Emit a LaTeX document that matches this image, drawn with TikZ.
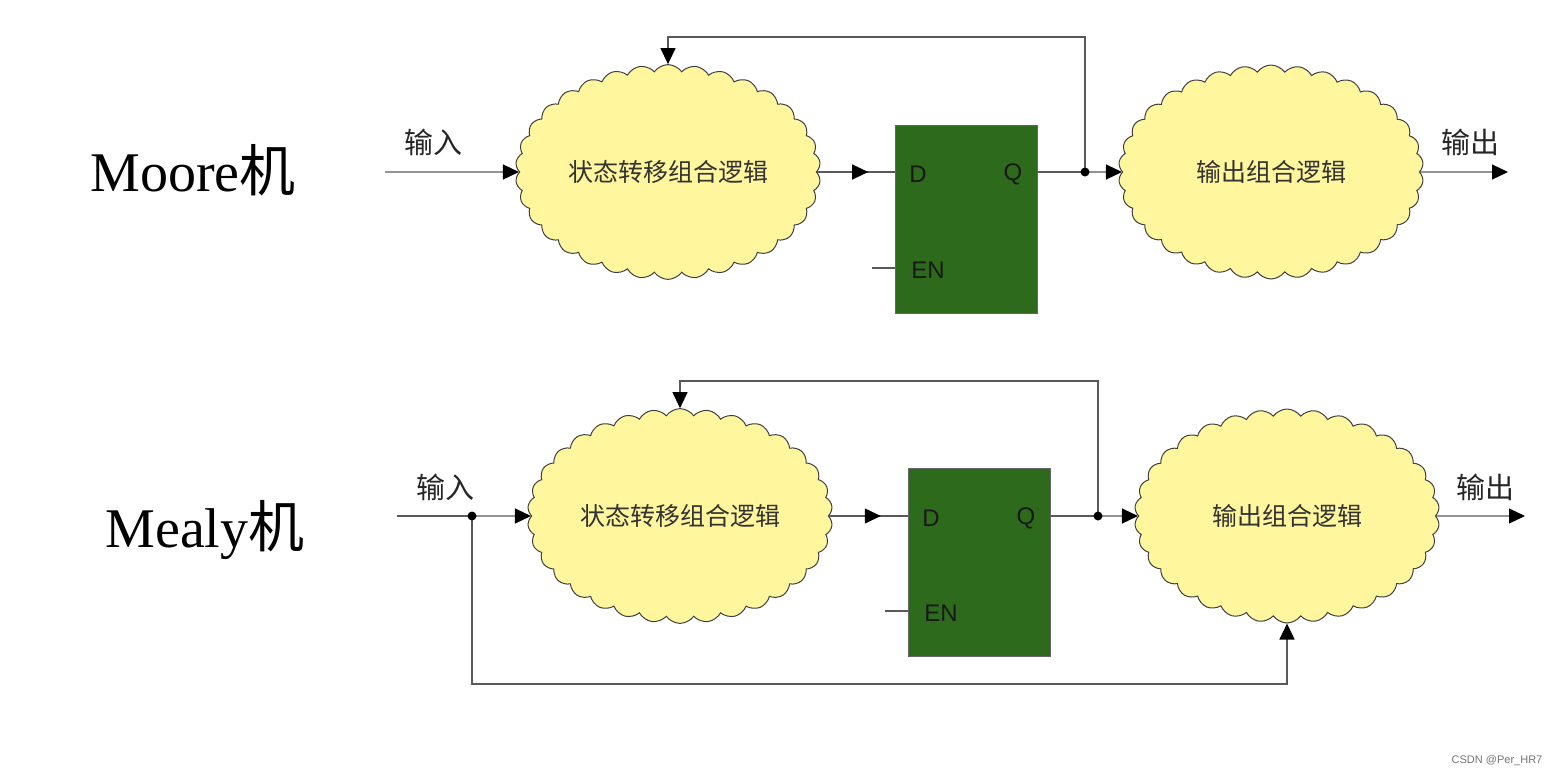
\documentclass[tikz,border=0pt]{standalone}
\usepackage{fontspec}
\setmainfont{Liberation Serif}
\newfontfamily\cjk{Noto Sans CJK SC}
\newfontfamily\arialfont{Liberation Sans}
\usepackage{tikz}
\usetikzlibrary{positioning}
\usetikzlibrary{arrows.meta}
\usetikzlibrary{shapes.symbols}
\usetikzlibrary{decorations.markings}
\usetikzlibrary{calc}
\definecolor{cloudyellow}{RGB}{255,246,158}
\definecolor{ffgreen}{RGB}{46,106,27}

\begin{document}
\begin{tikzpicture}[x=1pt,y=-1pt,>={Triangle[length=16pt,width=15pt,color=black]}]
\tikzset{logic/.style={cloud, cloud puffs=34, cloud puff arc=110, aspect=1.4, draw=black!75, line width=1pt, fill=cloudyellow, minimum width=305pt, minimum height=214pt, inner sep=0pt, font=\cjk\fontsize{25}{28}\selectfont, text=black!80}}
\tikzset{dff/.style={rectangle, draw=black!60, line width=1pt, fill=ffgreen, minimum width=142pt, minimum height=188pt}}
\tikzset{pin/.style={font=\arialfont\fontsize{24}{26}\selectfont, text=black!90}}
\tikzset{wire/.style={draw=black!65, line width=1.2pt}}
\tikzset{midarrow/.style={postaction={decorate}, decoration={markings, mark=at position #1 with {\arrow{>}}}}}
\tikzset{label/.style={font=\cjk\fontsize{29}{32}\selectfont, text=black!85}}
\tikzset{title/.style={font=\fontsize{56}{60}\selectfont}}
\tikzset{dot/.style={circle, fill=black, inner sep=0pt, minimum size=9pt}}
\useasboundingbox (0,0) rectangle (1554,777);

% Moore
\node[title] (moore) at (193,170) {Moore{\cjk 机}};
\node[logic] (st1) at (668,172) {状态转移组合逻辑};
\node[dff] (ff1) at (966,219) {};
\node[pin] (d1) at (918,174) {D};
\node[pin] (q1) at (1013,174) {Q};
\node[pin] (en1) at (928,270) {EN};
\node[logic] (out1) at (1271,172) {输出组合逻辑};
\node[label] (inlab1) at (433,142) {输入};
\node[label] (outlab1) at (1470,142) {输出};
\coordinate (in1) at (385,172);
\coordinate (o1) at (1508,172);
\coordinate (j1) at (1085,172);
\coordinate (e1) at (872,268);
\draw[wire,->] (in1) -- (st1.west);
\draw[wire,midarrow=0.66] (st1.east) -- (st1.east -| ff1.west);
\draw[wire] (e1) -- (e1 -| ff1.west);
\draw[wire] (j1 -| ff1.east) -- (j1);
\draw[wire,->] (j1) -- (out1.west);
\draw[wire,->] (j1) -- (j1 |- 0,37) -| (st1.north);
\draw[wire,->] (out1.east) -- (o1);
\node[dot] at (j1) {};

% Mealy
\node[title] (mealy) at (205,530) {Mealy{\cjk 机}};
\node[logic] (st2) at (680,516) {状态转移组合逻辑};
\node[dff] (ff2) at (979,562) {};
\node[pin] (d2) at (931,518) {D};
\node[pin] (q2) at (1026,518) {Q};
\node[pin] (en2) at (941,613) {EN};
\node[logic] (out2) at (1287,516) {输出组合逻辑};
\node[label] (inlab2) at (445,487) {输入};
\node[label] (outlab2) at (1485,487) {输出};
\coordinate (in2) at (397,516);
\coordinate (o2) at (1525,516);
\coordinate (i2) at (472,516);
\coordinate (j2) at (1098,516);
\coordinate (e2) at (885,611);
\coordinate (low2) at (out2.south |- 0,684);
\draw[wire] (in2) -- (i2);
\draw[wire,->] (i2) -- (st2.west);
\draw[wire,midarrow=0.66] (st2.east) -- (st2.east -| ff2.west);
\draw[wire] (e2) -- (e2 -| ff2.west);
\draw[wire] (j2 -| ff2.east) -- (j2);
\draw[wire,->] (j2) -- (out2.west);
\draw[wire,->] (j2) -- (j2 |- 0,381) -| (st2.north);
\draw[wire,->] (out2.east) -- (o2);
\draw[wire,->] (i2) |- (low2) -- (out2.south);
\node[dot] at (i2) {};
\node[dot] at (j2) {};

\node[font=\arialfont\fontsize{11}{13}\selectfont, text=black!55] (mark) at (1497,761) {CSDN @Per\_HR7};
\end{tikzpicture}
\end{document}
